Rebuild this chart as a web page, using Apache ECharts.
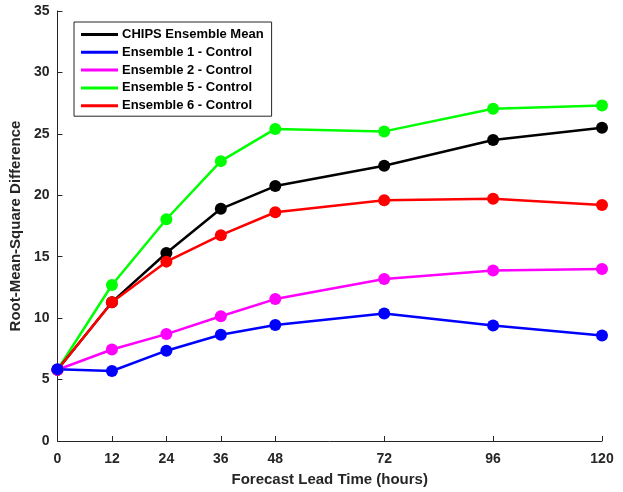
<!DOCTYPE html>
<html lang="en">
<head>
  <meta charset="utf-8">
  <title>RMSD vs lead time</title>
  <script src="https://cdn.jsdelivr.net/npm/echarts@6/dist/echarts.min.js"></script>
  <style>
    html, body { margin: 0; padding: 0; overflow: hidden; background: #fff; }
    #chart { width: 623px; height: 492px; }
  </style>
</head>
<body>
  <div id="chart"></div>
  <script>
    // forecast lead times (hours)
    var leadTimes = [0, 12, 24, 36, 48, 72, 96, 120];
    var xTicks = [0, 12, 24, 36, 48, 72, 96, 120];
    var yTicks = [0, 5, 10, 15, 20, 25, 30, 35];

    var seriesNames = ['CHIPS Ensemble Mean', 'Ensemble 1 - Control', 'Ensemble 2 - Control', 'Ensemble 5 - Control', 'Ensemble 6 - Control'];
    var seriesColors = ['#000000', '#0000ff', '#ff00ff', '#00ff00', '#ff0000'];

    var meanVals = [5.8, 11.3, 15.3, 18.9, 20.75, 22.4, 24.5, 25.5];
    var ens1Vals = [5.85, 5.7, 7.35, 8.65, 9.45, 10.38, 9.4, 8.58];
    var ens2Vals = [5.8, 7.45, 8.7, 10.15, 11.55, 13.18, 13.88, 14.0];
    var ens5Vals = [5.8, 12.7, 18.05, 22.78, 25.4, 25.2, 27.05, 27.3];
    var ens6Vals = [5.8, 11.3, 14.6, 16.75, 18.62, 19.6, 19.72, 19.2];

    var allVals = [meanVals, ens1Vals, ens2Vals, ens5Vals, ens6Vals];

    var chart = echarts.init(document.getElementById('chart'));
    var txt = '#262626';
    var fnt = 'Liberation Sans, Arial, sans-serif';

    // order of drawing: put mean on top-ish like the reference
    var drawOrder = [3, 0, 4, 2, 1];
    var series = drawOrder.map(function (k) {
      return {
        name: seriesNames[k],
        type: 'line',
        data: leadTimes.map(function (t, i) { return [t, allVals[k][i]]; }),
        symbol: 'circle',
        symbolSize: 12,
        showSymbol: true,
        lineStyle: { width: 2.5, color: seriesColors[k] },
        itemStyle: { color: seriesColors[k] },
        emphasis: { disabled: true },
        animation: false
      };
    });

    var option = {
      backgroundColor: '#fff',
      textStyle: { fontFamily: fnt },
      grid: { left: 53, right: 21, top: 11, bottom: 49, containLabel: false },
      legend: {
        data: seriesNames,
        orient: 'vertical',
        left: 74, top: 22,
        padding: [6, 8, 4, 7],
        itemGap: 4.8,
        itemWidth: 37, itemHeight: 3,
        icon: 'rect',
        borderColor: txt, borderWidth: 1,
        backgroundColor: '#fff',
        textStyle: { fontSize: 13, fontWeight: 'bold', color: '#000', fontFamily: fnt, padding: [0, 0, 0, -1] }
      },
      xAxis: {
        type: 'value',
        min: 0, max: 120, interval: 12,
        name: 'Forecast Lead Time (hours)',
        nameLocation: 'middle', nameGap: 31,
        nameTextStyle: { fontSize: 15, fontWeight: 'bold', color: txt },
        axisLine: { lineStyle: { color: txt, width: 1 } },
        axisTick: { inside: true, length: 5, lineStyle: { color: txt }, customValues: xTicks },
        axisLabel: { fontSize: 14, fontWeight: 'bold', color: txt, margin: 11, customValues: xTicks },
        splitLine: { show: false }
      },
      yAxis: {
        type: 'value',
        min: 0, max: 35, interval: 5,
        name: 'Root-Mean-Square Difference',
        nameLocation: 'middle', nameGap: 27,
        nameTextStyle: { fontSize: 15, fontWeight: 'bold', color: txt },
        axisLine: { show: true, lineStyle: { color: txt, width: 1 } },
        axisTick: { show: true, inside: true, length: 5, lineStyle: { color: txt } },
        axisLabel: { fontSize: 14, fontWeight: 'bold', color: txt, margin: 8,
          formatter: function (v) { return yTicks.indexOf(v) >= 0 ? String(v) : ''; } },
        splitLine: { show: false }
      },
      series: series
    };
    chart.setOption(option);
  </script>
</body>
</html>
